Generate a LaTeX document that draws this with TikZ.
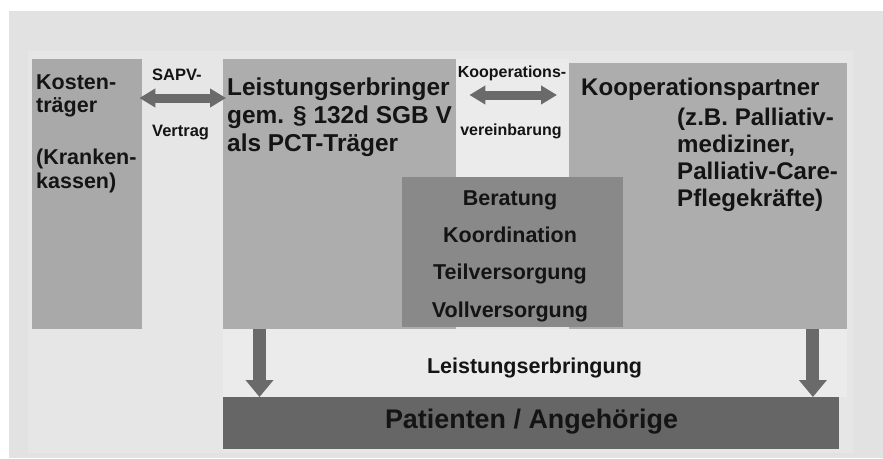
\documentclass[tikz,border=0pt]{standalone}
\usepackage{fontspec}
\setmainfont{Liberation Sans}
\usetikzlibrary{arrows.meta,calc}
\definecolor{bgout}{HTML}{E2E2E2}
\definecolor{bgin}{HTML}{E6E6E6}
\definecolor{bglight}{HTML}{EBEBEB}
\definecolor{boxa}{HTML}{A9A9A9}
\definecolor{boxb}{HTML}{ADADAD}
\definecolor{boxmid}{HTML}{898989}
\definecolor{boxdark}{HTML}{666666}
\definecolor{arrowcol}{HTML}{6A6A6A}
\definecolor{txtcol}{HTML}{141414}
\begin{document}
\begin{tikzpicture}[x=1pt,y=-1pt,
  box/.style={draw=none, inner sep=0pt, anchor=north west},
  txt/.style={inner sep=0pt, text=txtcol, align=left},
  dblarrow/.style={draw=arrowcol, line width=9pt,
    {Triangle[length=16pt,width=18pt]}-{Triangle[length=16pt,width=18pt]}},
  downarrow/.style={draw=arrowcol, line width=13pt,
    -{Triangle[length=17pt,width=27pt]}}]
\useasboundingbox (0,0) rectangle (883,458);
% backgrounds
\fill[bgout] (9,11) rectangle (883,458);
\fill[bgin] (28,51) rectangle (853,453);
\fill[bglight] (456,59) rectangle (569,177);
\fill[bglight] (223,329) rectangle (847,397);
% boxes
\node[box, fill=boxa, minimum width=110pt, minimum height=270pt] (kt) at (32,59) {};
\node[box, fill=boxb, minimum width=233pt, minimum height=270pt] (le) at (223,59) {};
\node[box, fill=boxb, minimum width=278pt, minimum height=266pt] (kp) at (569,63) {};
\node[box, fill=boxmid, minimum width=221pt, minimum height=150pt] (mid) at (402,177) {};
\node[box, fill=boxdark, minimum width=616pt, minimum height=52pt] (pat) at (223,397) {};
% box texts (base anchor = baseline of the last line)
\node[txt, anchor=base west, font={\bfseries\fontsize{21.5pt}{23.3pt}\selectfont}] (kttext) at (36,188)
  {Kosten-\\träger\\[29pt](Kranken-\\kassen)};
\node[txt, anchor=base west, font={\bfseries\fontsize{24.4pt}{27.6pt}\selectfont}] (letext) at (227,151)
  {Leistungserbringer\\gem. § 132d SGB V\\als PCT-Träger};
\node[txt, anchor=base west, font={\bfseries\fontsize{24.1pt}{27pt}\selectfont}] (kptitle) at (581,95)
  {Kooperationspartner};
\node[txt, anchor=base west, font={\bfseries\fontsize{24.1pt}{27.2pt}\selectfont}] (kpsub) at (677,206.7)
  {(z.B. Palliativ-\\mediziner,\\Palliativ-Care-\\Pflegekräfte)};
\node[txt, align=center, anchor=base, font={\bfseries\fontsize{21.5pt}{37.3pt}\selectfont}] (midtext) at (510,317)
  {Beratung\\Koordination\\Teilversorgung\\Vollversorgung};
\node[txt, anchor=base, font={\bfseries\fontsize{21.5pt}{24pt}\selectfont}] (lbtext) at (534.5,373)
  {Leistungserbringung};
\node[txt, anchor=base, font={\bfseries\fontsize{26.9pt}{30pt}\selectfont}] (pattext) at (531.5,428)
  {Patienten / Angehörige};
% connector labels
\node[txt, anchor=base west, font={\bfseries\fontsize{16.5pt}{18pt}\selectfont}] (sapv1) at (152,80) {SAPV-};
\node[txt, anchor=base west, font={\bfseries\fontsize{16.5pt}{18pt}\selectfont}] (sapv2) at (152,136) {Vertrag};
\node[txt, anchor=base, font={\bfseries\fontsize{16pt}{18pt}\selectfont}] (koop1) at (512,77) {Kooperations-};
\node[txt, anchor=base, font={\bfseries\fontsize{16pt}{18pt}\selectfont}] (koop2) at (511,135) {vereinbarung};
% connectors
\draw[dblarrow, shorten <=-3pt, shorten >=-3pt]
  ($(kt.north east)+(0,39)$) -- ($(le.north west)+(0,39)$);
\draw[dblarrow, shorten <=13pt, shorten >=12pt]
  ($(le.north east)+(0,36)$) -- ($(kp.north west)+(0,32)$);
\coordinate (dl) at ($(le.south west)+(36.5,0)$);
\coordinate (dr) at ($(kp.south east)+(-34.5,0)$);
\draw[downarrow] (dl) -- (dl |- pat.north);
\draw[downarrow] (dr) -- (dr |- pat.north);
\end{tikzpicture}
\end{document}
